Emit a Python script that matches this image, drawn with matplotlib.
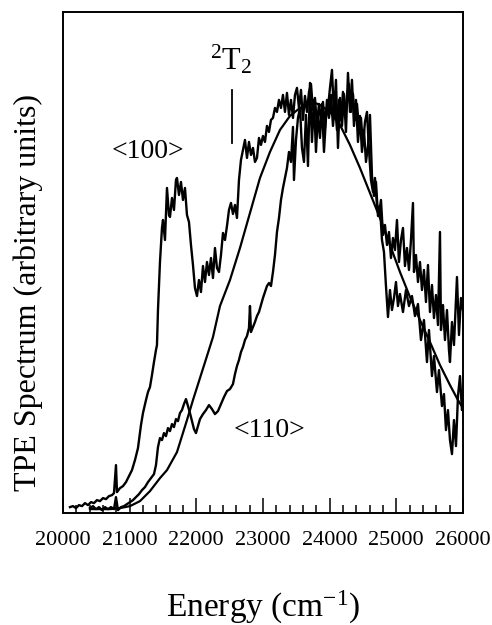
import numpy as np
import matplotlib
matplotlib.use('Agg')
import matplotlib.pyplot as plt
from matplotlib.ticker import MultipleLocator

plt.rcParams['font.family'] = ['Liberation Serif', 'DejaVu Serif']
plt.rcParams['mathtext.fontset'] = 'custom'
plt.rcParams['mathtext.rm'] = 'Liberation Serif'
plt.rcParams['mathtext.it'] = 'Liberation Serif:italic'

# <100> spectrum (energy in cm-1, intensity in arbitrary units)
e100 = [20105, 20150, 20195, 20240, 20285, 20330, 20375, 20420, 20465, 20510,
        20555, 20600, 20645, 20690, 20735, 20765, 20795, 20810, 20855, 20900,
        20945, 20990, 21035, 21080, 21125, 21170, 21200, 21245, 21275, 21305,
        21335, 21365, 21395, 21410, 21425, 21440, 21455, 21485, 21500, 21530,
        21560, 21590, 21605, 21635, 21665, 21695, 21710, 21740, 21770, 21800,
        21830, 21860, 21890, 21920, 21950, 21980, 22010, 22040, 22070, 22100,
        22130, 22160, 22190, 22220, 22250, 22280, 22310, 22340, 22370, 22400,
        22430, 22460, 22490, 22520, 22550, 22580, 22610, 22640, 22670, 22700,
        22730, 22760, 22790, 22820, 22850, 22880, 22910, 22940, 22970, 23000,
        23030, 23060, 23090, 23120, 23150, 23180, 23210, 23240, 23270, 23300,
        23330, 23360, 23390, 23420, 23450, 23480, 23510, 23540, 23570, 23600,
        23630, 23660, 23690, 23720, 23750, 23780, 23810, 23840, 23870, 23900,
        23930, 23960, 23990, 24020, 24050, 24080, 24110, 24140, 24170, 24200,
        24230, 24260, 24290, 24320, 24350, 24380, 24410, 24440, 24470, 24500,
        24530, 24560, 24590, 24620, 24650, 24680, 24710, 24740, 24770, 24800,
        24830, 24860, 24890, 24920, 24950, 24980, 25010, 25040, 25070, 25100,
        25130, 25160, 25190, 25220, 25250, 25265, 25295, 25325, 25355, 25385,
        25415, 25445, 25475, 25505, 25535, 25565, 25595, 25625, 25655, 25670,
        25700, 25730, 25760, 25790, 25805, 25835, 25865, 25895, 25910, 25940,
        25970, 26000]
i100 = [6, 7, 5, 8, 7, 10, 8, 11, 10, 13,
        12, 15, 14, 17, 18, 20, 48, 21, 25, 27,
        31, 37, 43, 53, 65, 88, 100, 113, 121, 126,
        138, 151, 163, 168, 203, 228, 251, 285, 293, 273,
        325, 298, 296, 315, 303, 333, 335, 318, 331, 313,
        325, 298, 291, 268, 248, 225, 217, 233, 221, 247,
        231, 251, 238, 255, 235, 265, 245, 241, 258, 280,
        273, 287, 303, 310, 299, 308, 295, 333, 353, 363,
        373, 355, 371, 358, 365, 351, 355, 375, 368, 377,
        371, 387, 381, 393, 395, 405, 401, 413, 405, 418,
        401, 420, 398, 413, 395, 418, 425, 405, 423, 393,
        417, 401, 421, 429, 403, 415, 388, 409, 393, 411,
        385, 413, 395, 418, 387, 409, 383, 413, 393, 421,
        395, 417, 429, 401, 419, 393, 409, 385, 395, 368,
        391, 401, 363, 333, 321, 335, 308, 298, 313, 278,
        288, 268, 281, 255, 275, 263, 293, 251, 273, 285,
        247, 265, 243, 273, 310, 241, 258, 231, 251, 223,
        243, 211, 248, 201, 228, 195, 218, 188, 281, 183,
        208, 173, 203, 163, 151, 191, 168, 213, 236, 178,
        215, 203]

# <110> spectrum
e110 = [20405, 20450, 20495, 20540, 20585, 20630, 20675, 20720, 20765, 20795,
        20825, 20870, 20915, 20960, 21005, 21050, 21095, 21140, 21185, 21230,
        21275, 21320, 21365, 21395, 21425, 21455, 21485, 21515, 21545, 21575,
        21605, 21635, 21665, 21695, 21725, 21755, 21785, 21815, 21845, 21875,
        21905, 21935, 21965, 21995, 22025, 22055, 22100, 22145, 22190, 22235,
        22280, 22325, 22370, 22415, 22460, 22505, 22550, 22580, 22610, 22640,
        22670, 22700, 22730, 22760, 22790, 22805, 22820, 22850, 22880, 22910,
        22940, 22970, 23000, 23030, 23060, 23090, 23120, 23150, 23180, 23210,
        23240, 23270, 23300, 23330, 23360, 23390, 23420, 23450, 23465, 23495,
        23525, 23555, 23585, 23615, 23645, 23675, 23705, 23735, 23765, 23795,
        23825, 23855, 23885, 23915, 23945, 23975, 24005, 24035, 24065, 24095,
        24125, 24155, 24185, 24215, 24245, 24275, 24305, 24335, 24365, 24395,
        24425, 24455, 24485, 24515, 24545, 24575, 24605, 24635, 24665, 24695,
        24725, 24755, 24785, 24815, 24845, 24875, 24905, 24935, 24965, 24995,
        25025, 25055, 25100, 25145, 25190, 25235, 25280, 25325, 25370, 25415,
        25460, 25490, 25535, 25565, 25610, 25640, 25685, 25715, 25745, 25775,
        25805, 25835, 25865, 25895, 25925, 25955, 25985, 26000]
i110 = [5, 7, 4, 6, 3, 6, 4, 6, 4, 16,
        3, 6, 7, 9, 11, 13, 16, 19, 23, 26,
        31, 35, 39, 48, 66, 75, 73, 80, 77, 85,
        82, 89, 86, 94, 92, 100, 103, 109, 114, 107,
        100, 92, 84, 80, 87, 94, 99, 103, 108, 104,
        99, 102, 109, 116, 122, 124, 129, 139, 147, 153,
        161, 166, 173, 177, 185, 207, 181, 186, 191, 197,
        201, 208, 215, 221, 227, 230, 227, 241, 258, 281,
        295, 313, 325, 335, 345, 361, 351, 386, 333, 373,
        395, 405, 365, 351, 398, 347, 430, 371, 413, 361,
        399, 375, 409, 361, 395, 405, 425, 443, 397, 433,
        365, 415, 387, 419, 381, 440, 401, 433, 387, 413,
        371, 397, 361, 383, 351, 367, 398, 337, 317, 331,
        297, 307, 273, 261, 227, 196, 223, 203, 215, 231,
        207, 219, 201, 223, 207, 217, 197, 209, 173, 193,
        151, 183, 137, 157, 121, 143, 107, 119, 83, 103,
        73, 59, 93, 67, 117, 137, 103, 108]

# fitted band
efit = [20405, 20555, 20705, 20855, 21005, 21155, 21305, 21455, 21560, 21710,
        21860, 21950, 22055, 22160, 22250, 22355, 22505, 22655, 22805, 22955,
        23105, 23255, 23405, 23555, 23705, 23780, 23855, 24005, 24155, 24305,
        24455, 24605, 24755, 24905, 25055, 25205, 25355, 25505, 25655, 25805,
        25925, 26000]
ifit = [4, 4, 4, 5, 7, 12, 22, 35, 43, 61,
        93, 113, 135, 157, 176, 207, 233, 265, 300, 335,
        361, 383, 397, 405, 409, 410, 408, 401, 388, 368,
        345, 320, 295, 268, 241, 216, 193, 171, 148, 128,
        113, 105]

fig = plt.figure(figsize=(4.92, 6.25), dpi=100)
ax = fig.add_axes([0.128, 0.179, 0.813, 0.802])

ax.plot(e100, i100, color='black', lw=1.7)
ax.plot(e110, i110, color='black', lw=1.7)
ax.plot(efit, ifit, color='black', lw=1.6)

# 2T2 marker
ax.plot([22535, 22535], [370, 423], color='black', lw=1.3)
ax.text(22520, 443, r'$^{2}\mathrm{T}_{2}$', ha='center', va='baseline', fontsize=22)
ax.text(21275, 361, '<100>', ha='center', va='center', fontsize=20)
ax.text(23105, 83, '<110>', ha='center', va='center', fontsize=20)

ax.set_xlim(20000, 26000)
ax.set_ylim(0, 501)
ax.xaxis.set_major_locator(MultipleLocator(1000))
ax.xaxis.set_minor_locator(MultipleLocator(200))
ax.tick_params(axis='x', which='major', direction='in', length=11, width=1.1,
               labelsize=16, pad=13)
ax.tick_params(axis='x', which='minor', direction='in', length=6, width=1.1)
ax.set_yticks([])
for s in ax.spines.values():
    s.set_linewidth(1.4)

ax.set_xlabel('Energy (cm$^{-1}$)', fontsize=24, labelpad=28)
ax.set_ylabel('TPE Spectrum (arbitrary units)', fontsize=23)
ax.yaxis.set_label_coords(-0.05, 0.44)

fig.savefig('out.png', dpi=100)
